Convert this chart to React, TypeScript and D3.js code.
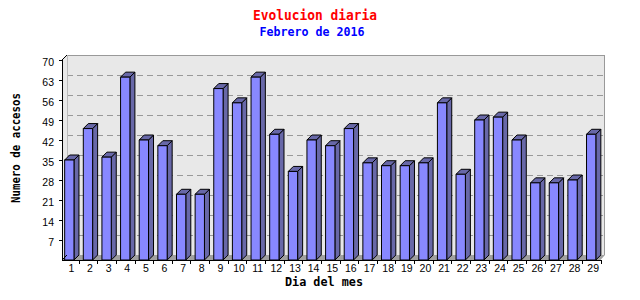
import React from "react";
import * as d3 from "d3";

const days = d3.range(1, 30).map(String);
const accesses = [35, 46, 36, 64, 42, 40, 23, 23, 60, 55, 64, 44, 31, 42, 40, 46, 34, 33, 33, 34, 55, 30, 49, 50, 42, 27, 27, 28, 44];
const yTicks = [7, 14, 21, 28, 35, 42, 49, 56, 63, 70];

const W = 640, H = 300;
const axisX = 62, baseY = 260, topY = 60;
const xLeft = 60, xRight = 600.5;
const D = 5;

export default function App() {
  const x = d3.scaleBand().domain(days).range([xLeft, xRight]).padding(0);
  const y = d3.scaleLinear().domain([0, 70]).range([baseY, topY]);
  const bw = x.bandwidth() * 0.5;
  const mono = "'DejaVu Sans Mono', monospace";
  const sans = "'Liberation Sans', Arial, sans-serif";
  const wallL = axisX + D, wallR = 605, wallT = topY - D, wallB = baseY - D;
  return (
    <svg width={W} height={H} style={{ position: "absolute", left: 0, top: 0 }} shapeRendering="crispEdges">
      <rect width={W} height={H} fill="#fff" />
      {/* back wall */}
      <rect x={wallL} y={wallT} width={wallR - wallL} height={wallB - wallT} fill="#e8e8e8" />
      {/* floor */}
      <polygon points={`${axisX},${baseY} ${xRight},${baseY} ${wallR},${wallB} ${wallL},${wallB}`} fill="#a0a0a0" shapeRendering="auto" />
      {/* left side wall edge */}
      <polygon points={`${axisX},${baseY} ${axisX},${topY} ${wallL},${wallT} ${wallL},${wallB}`} fill="#e8e8e8" shapeRendering="auto" />
      {/* grid lines */}
      {yTicks.slice(0, -1).map((v) => (
        <line key={v} x1={wallL} x2={wallR} y1={Math.round(y(v) - D) + 0.5} y2={Math.round(y(v) - D) + 0.5} stroke="#999" strokeDasharray="6,4" />
      ))}
      {/* wall border top/right */}
      <polyline points={`${wallL},${wallT + 0.5} ${wallR - 0.5},${wallT + 0.5} ${wallR - 0.5},${wallB}`} fill="none" stroke="#999" />
      <line x1={wallL} y1={wallT} x2={wallL} y2={wallB} stroke="#bbb" />
      <line x1={axisX} y1={topY} x2={wallL} y2={wallT} stroke="#000" shapeRendering="auto" />
      {/* bars */}
      {accesses.map((v, i) => {
        const cx = (x(days[i]) as number) + x.bandwidth() / 2;
        const x0 = cx - bw / 2, x1 = cx + bw / 2;
        const yt = y(v);
        return (
          <g key={i} shapeRendering="auto" stroke="#000" strokeWidth={1} strokeLinejoin="round">
            <polygon points={`${x1},${baseY} ${x1},${yt} ${x1 + D},${yt - D} ${x1 + D},${baseY - D}`} fill="#6868a8" />
            <polygon points={`${x0},${yt} ${x1},${yt} ${x1 + D},${yt - D} ${x0 + D},${yt - D}`} fill="#6868a8" />
            <rect x={x0} y={yt} width={bw} height={baseY - yt} fill="#8888ff" />
          </g>
        );
      })}
      {/* axes */}
      <line x1={axisX + 0.5} x2={axisX + 0.5} y1={topY} y2={baseY} stroke="#000" />
      <line x1={axisX} x2={xRight} y1={baseY + 0.5} y2={baseY + 0.5} stroke="#000" />
      <line x1={axisX} y1={baseY} x2={wallL} y2={wallB} stroke="#000" shapeRendering="auto" />
      {yTicks.map((v) => (
        <g key={v}>
          <line x1={axisX - 3} x2={axisX} y1={Math.round(y(v)) + 0.5} y2={Math.round(y(v)) + 0.5} stroke="#000" />
          <text x={54} y={y(v) + 6} textAnchor="end" fontFamily={sans} fontSize={10.5} fill="#000">{v}</text>
        </g>
      ))}
      {days.map((d, i) => {
        const bx = x(d) as number;
        return (
          <g key={d}>
            <line x1={Math.round(bx + x.bandwidth()) + 0.5} x2={Math.round(bx + x.bandwidth()) + 0.5} y1={baseY} y2={baseY + 4} stroke="#000" />
            <text x={bx + x.bandwidth() / 2 + 2} y={272} textAnchor="middle" fontFamily={sans} fontSize={10.5} fill="#000">{d}</text>
          </g>
        );
      })}
      {/* titles */}
      <text x={315} y={20} textAnchor="middle" fontFamily={mono} fontWeight="bold" fontSize={14} fill="#ff0000" textLength={124} lengthAdjust="spacingAndGlyphs">Evolucion diaria</text>
      <text x={312} y={36} textAnchor="middle" fontFamily={mono} fontWeight="bold" fontSize={12} fill="#0000ff" textLength={105} lengthAdjust="spacingAndGlyphs">Febrero de 2016</text>
      <text x={324} y={286} textAnchor="middle" fontFamily={mono} fontWeight="bold" fontSize={12} fill="#000" textLength={78} lengthAdjust="spacingAndGlyphs">Dia del mes</text>
      <text transform="translate(19.5,148) rotate(-90)" textAnchor="middle" fontFamily={mono} fontWeight="bold" fontSize={11.5} fill="#000" textLength={110} lengthAdjust="spacingAndGlyphs">Numero de accesos</text>
    </svg>
  );
}
